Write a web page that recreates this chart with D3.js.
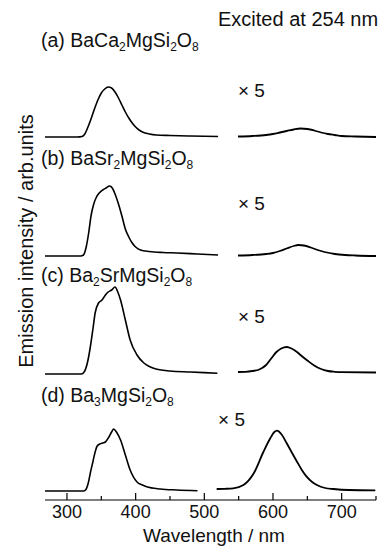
<!DOCTYPE html>
<html>
<head>
<meta charset="utf-8">
<script src="https://cdn.jsdelivr.net/npm/d3@7"></script>
<style>
  html, body { margin: 0; padding: 0; background: #fff; }
  svg text { font-family: "Liberation Sans", Arial, sans-serif; fill: #111; }
</style>
</head>
<body>
<svg id="chart"></svg>
<script>
// Chart size
const width = 381;
const height = 550;

// Panel names and vertical offsets (stacked spectra, arb. units)
const panelLabels = ["(a) BaCa_2MgSi_2O_8", "(b) BaSr_2MgSi_2O_8", "(c) Ba_2SrMgSi_2O_8", "(d) Ba_3MgSi_2O_8"];
const panelOffsets = [354, 235, 117, 0];

// Left spectra (UV band), [wavelength nm, intensity]
const aLeft = [[268,0],[315,0],[322,0.5],[326,3],[330,9],[335,18],[340,28],[345,37],[350,44],[355,48],[360,50],[365,49],[370,45],[375,39],[380,32],[385,25],[390,19],[395,14],[400,10],[405,7],[410,5],[420,3],[430,2],[450,1.5],[480,1],[520,0.5]];
const bLeft = [[268,0],[320,0],[324,1],[328,9],[332,25],[335,40],[339,52],[343,59],[347,63],[352,66],[357,68],[362,70],[366,68],[370,62],[375,52],[380,40],[385,27],[390,19],[395,13],[400,9],[407,6],[420,4.5],[440,3.5],[460,3],[490,2],[520,1]];
const cLeft = [[268,0],[321,0],[325,2],[330,12],[334,27],[338,46],[341,61],[346,71],[351,74],[356,79],[360,82],[365,84],[370,87],[374,82],[378,74],[385,54],[392,34],[402,19],[412,11],[420,7.5],[431,4.7],[450,3],[480,2],[519,0.7]];
const dLeft = [[268,0],[324,0],[327,1],[331,8],[334,18],[338,30],[341,39],[344,45],[348,47],[352,48],[356,49],[361,54],[365,59],[368,62],[372,59],[378,51],[385,36],[392,21],[402,9],[410,6],[416,4.3],[436,2],[460,1],[490,0.3]];

// Right spectra (red band, shown x5)
const aRight = [[549,0.5],[570,1],[590,2],[600,3],[610,4.5],[620,6],[630,7.5],[640,8.5],[650,8],[660,6.5],[670,4.5],[680,3],[690,2],[700,1],[720,0.5],[750,0]];
const bRight = [[549,0.5],[570,1],[590,2],[600,3],[610,5],[620,7.5],[630,10],[637,11],[645,10.5],[655,8.5],[665,6],[675,4],[690,2],[705,1],[720,0.5],[750,0]];
const cRight = [[549,2],[560,2.2],[570,3],[580,4.5],[590,9],[598,16],[605,22],[612,25.5],[620,27],[627,25.5],[635,22],[640,19],[650,13.5],[660,8.5],[670,5],[680,3],[690,2.2],[700,1.8],[750,1.5]];
const dRight = [[518,2],[530,2.2],[542,2.7],[557,6],[572,17.7],[586,39],[596,52.7],[602,59],[606,60.3],[612,57],[620,47.7],[627,39],[635,29.3],[642,21],[649,14.3],[657,9],[664,6],[676,3],[688,2],[710,1],[749,0.7]];

const leftSpectra = [aLeft, bLeft, cLeft, dLeft];
const rightSpectra = [aRight, bRight, cRight, dRight];

// Axis ticks
const majorTicks = [300, 400, 500, 600, 700];
const minorTicks = [350, 450, 550, 650, 750];

// Annotation heights above each panel's baseline (arb. units)
const labelHeights = [90, 91, 92, 89];
const timesFiveAt = [[549, 40], [549, 46], [549, 51], [520, 65]];

// Scales
const x = d3.scaleLinear().domain([268, 750]).range([45, 376]);
const y = d3.scaleLinear().domain([-9, 400]).range([500, 91]);

const svg = d3.select("#chart")
    .attr("width", width)
    .attr("height", height);

const line = d3.line()
    .x(d => x(d[0]))
    .y(d => y(d[1]))
    .curve(d3.curveMonotoneX);

// Draw spectra
leftSpectra.forEach((spec, i) => {
    svg.append("path")
        .datum(spec.map(p => [p[0], p[1] + panelOffsets[i]]))
        .attr("d", line)
        .attr("fill", "none")
        .attr("stroke", "#000")
        .attr("stroke-width", 1.6)
        .attr("stroke-linejoin", "round");
});

rightSpectra.forEach((spec, i) => {
    svg.append("path")
        .datum(spec.map(p => [p[0], p[1] + panelOffsets[i]]))
        .attr("d", line)
        .attr("fill", "none")
        .attr("stroke", "#000")
        .attr("stroke-width", 1.8)
        .attr("stroke-linejoin", "round");
});

// Panel labels with subscripts (sub shifts down, next part shifts back)
function addFormula(sel, str) {
    let shifted = false;
    str.split(/(_\d)/).filter(s => s.length).forEach(part => {
        if (part[0] === "_") {
            sel.append("tspan").attr("font-size", 12).attr("dy", 4).text(part.slice(1));
            shifted = true;
        } else {
            sel.append("tspan").attr("dy", shifted ? -4 : 0).text(part);
            shifted = false;
        }
    });
}

panelLabels.forEach((lab, i) => {
    const t = svg.append("text")
        .attr("x", 41)
        .attr("y", y(panelOffsets[i] + labelHeights[i]))
        .attr("font-size", 19.5);
    addFormula(t, lab);
});

// "x 5" marks
timesFiveAt.forEach((p, i) => {
    svg.append("text")
        .attr("x", x(p[0]))
        .attr("y", y(panelOffsets[i] + p[1]))
        .attr("font-size", 19)
        .text("\u00d7 5");
});

svg.append("text")
    .attr("x", 218)
    .attr("y", 26)
    .attr("font-size", 20)
    .text("Excited at 254 nm");

// X axis
const axisY = y(-9);
svg.append("line")
    .attr("x1", x(268)).attr("x2", x(750))
    .attr("y1", axisY).attr("y2", axisY)
    .attr("stroke", "#000").attr("stroke-width", 1.2);

svg.selectAll(".major")
    .data(majorTicks)
    .enter().append("line")
    .attr("x1", d => x(d)).attr("x2", d => x(d))
    .attr("y1", axisY).attr("y2", axisY - 7)
    .attr("stroke", "#000").attr("stroke-width", 1.2);

svg.selectAll(".minor")
    .data(minorTicks)
    .enter().append("line")
    .attr("x1", d => x(d)).attr("x2", d => x(d))
    .attr("y1", axisY).attr("y2", axisY - 4)
    .attr("stroke", "#000").attr("stroke-width", 1.2);

svg.selectAll(".ticklabel")
    .data(majorTicks)
    .enter().append("text")
    .attr("x", d => x(d))
    .attr("y", axisY + 18)
    .attr("text-anchor", "middle")
    .attr("font-size", 18)
    .text(d => d);

svg.append("text")
    .attr("x", 214)
    .attr("y", 542)
    .attr("text-anchor", "middle")
    .attr("font-size", 19)
    .text("Wavelength / nm");

svg.append("text")
    .attr("transform", "translate(33,241) rotate(-90)")
    .attr("text-anchor", "middle")
    .attr("font-size", 20)
    .text("Emission intensity / arb.units");
</script>
</body>
</html>
